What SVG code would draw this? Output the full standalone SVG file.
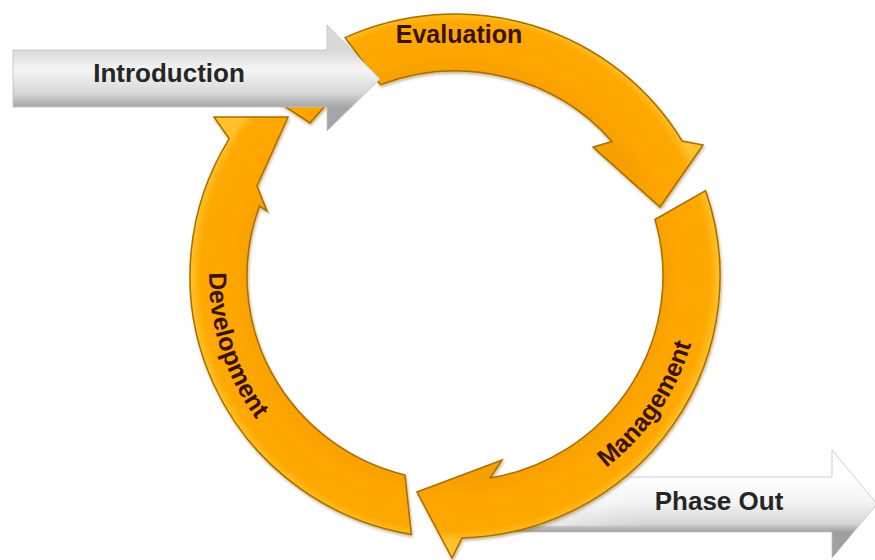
<svg xmlns="http://www.w3.org/2000/svg" width="875" height="560" viewBox="0 0 875 560">
  <style>
    .ring { fill: url(#orange); stroke: #A86E00; stroke-width: 1.5; stroke-linejoin: miter; filter: url(#shadow); }
    .grey { stroke: #c2c2c2; stroke-width: 0.8; }
    .lbl { font-family: "Liberation Sans", Arial, sans-serif; font-weight: bold; font-size: 26px; fill: #262626; }
    .rlbl { font-family: "Liberation Sans", Arial, sans-serif; font-weight: bold; font-size: 25px; fill: #3a1208; }
  </style>
  <defs>
    <radialGradient id="orange" gradientUnits="userSpaceOnUse" cx="455" cy="276" r="265">
      <stop offset="0.76" stop-color="#F59F00"/>
      <stop offset="0.85" stop-color="#FFA600"/>
      <stop offset="0.96" stop-color="#FFA800"/>
      <stop offset="1" stop-color="#FFC22A"/>
    </radialGradient>
    <linearGradient id="introGrad" gradientUnits="userSpaceOnUse" x1="0" y1="50" x2="0" y2="107">
      <stop offset="0" stop-color="#d9d9d9"/>
      <stop offset="0.35" stop-color="#f5f5f5"/>
      <stop offset="0.75" stop-color="#d8d8d8"/>
      <stop offset="1" stop-color="#a6a6a6"/>
    </linearGradient>
    <linearGradient id="phaseGrad" gradientUnits="userSpaceOnUse" x1="0" y1="477" x2="0" y2="532">
      <stop offset="0" stop-color="#ffffff"/>
      <stop offset="0.45" stop-color="#f4f4f4"/>
      <stop offset="0.85" stop-color="#d6d6d6"/>
      <stop offset="1" stop-color="#9f9f9f"/>
    </linearGradient>
    <linearGradient id="fadeLeft" gradientUnits="userSpaceOnUse" x1="470" y1="0" x2="640" y2="0">
      <stop offset="0" stop-color="#ffffff" stop-opacity="1"/>
      <stop offset="1" stop-color="#ffffff" stop-opacity="0"/>
    </linearGradient>
    <filter id="shadow" x="-10%" y="-10%" width="120%" height="120%">
      <feDropShadow dx="1" dy="2" stdDeviation="1.5" flood-color="#8a5a00" flood-opacity="0.45"/>
    </filter>
    <path id="mgmtPath" d="M 497.7 515.3 A 246 243 0 0 0 695.6 225.5"/>
    <path id="devPath" d="M 236.8 163.8 A 246 243 0 0 0 349.1 495.3"/>
  </defs>

  <rect width="875" height="560" fill="#ffffff"/>

  <g id="phaseout">
    <polygon class="grey" fill="url(#phaseGrad)" points="470,477 832,477 832,450 877,504 832,558 832,532 470,532"/>
    <rect x="469" y="476" width="172" height="50" fill="url(#fadeLeft)"/>
    <text class="lbl" x="719" y="510" text-anchor="middle">Phase Out</text>
  </g>

  <g id="development">
    <polygon class="ring" points="272,98 332,98 310,123"/>
    <path class="ring" d="M 405 475 L 411.3 534.4 A 265 262 0 0 1 229.3 138.7 L 214 117 L 288 117 L 257 186 L 267 211 L 259.5 205.9 A 208 205 0 0 0 405 475 Z"/>
    <text class="rlbl"><textPath href="#devPath" startOffset="49%" text-anchor="middle">Development</textPath></text>
  </g>

  <g id="management">
    <path class="ring" d="M 655 219.5 L 705.6 190.7 A 265 262 0 0 1 461.9 537.9 L 452 558 L 417 492 L 502 460 L 490 478 A 208 205 0 0 0 655 219.5 Z"/>
    <text class="rlbl"><textPath href="#mgmtPath" startOffset="50%" text-anchor="middle">Management</textPath></text>
  </g>

  <g id="evaluation">
    <path class="ring" d="M 345.1 37.6 A 265 262 0 0 1 682.2 141.1 L 703 145 L 660 207 L 593 147 L 612 141.5 A 208 205 0 0 0 380.5 84.6 Z"/>
    <text class="rlbl" x="459" y="43" text-anchor="middle" font-size="26">Evaluation</text>
  </g>

  <g id="introduction">
    <polygon class="grey" fill="url(#introGrad)" points="13,50 327,50 327,25 380,79 327,131 327,107 13,107"/>
    <text class="lbl" x="169" y="82" text-anchor="middle">Introduction</text>
  </g>

  <g id="connectors"/>
</svg>
